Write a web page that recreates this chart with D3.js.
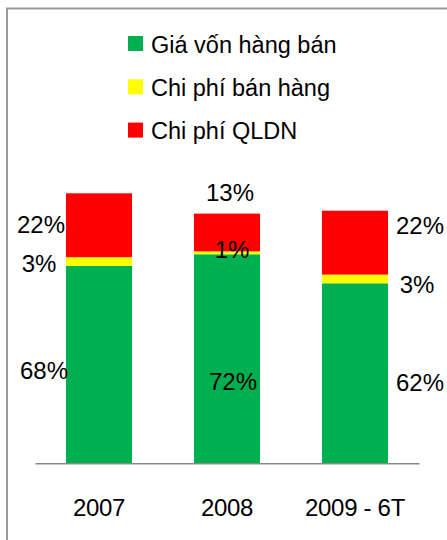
<!DOCTYPE html>
<html>
<head>
<meta charset="utf-8">
<script src="https://cdn.jsdelivr.net/npm/d3@7.9.0/dist/d3.min.js"></script>
<style>
  html, body { margin: 0; padding: 0; background: #fff; }
  svg { display: block; font-family: "Liberation Sans", Arial, sans-serif; }
</style>
</head>
<body>
<div id="chart"></div>
<script>
// categories and series (percent of revenue)
const years = ['2007', '2008', '2009 - 6T'];
const seriesNames = ['Giá vốn hàng bán', 'Chi phí bán hàng', 'Chi phí QLDN'];
const seriesColors = ['#00b050', '#ffff00', '#ff0000'];
const giaVon = [68, 72, 62];
const chiPhiBanHang = [3, 1, 3];
const chiPhiQLDN = [22, 13, 22];

// label nudges [dx, dy] relative to segment centre, per year, per series
const labelNudge = [
  [[-55, 6], [-60, 2], [-58, -1]],
  [[6, 23], [5, -3], [3, -40]],
  [[65, 9], [62, 6], [65, -17]]
];

const width = 447, height = 540;
const svg = d3.select('#chart').append('svg')
  .attr('width', width).attr('height', height);

// outer frame
svg.append('rect')
  .attr('x', 7).attr('y', 8.5)
  .attr('width', 460).attr('height', 560)
  .attr('fill', 'none')
  .attr('stroke', '#9a9a9a')
  .attr('stroke-width', 2);

// stacked data
const rows = years.map((y, i) => ({ year: y, s0: giaVon[i], s1: chiPhiBanHang[i], s2: chiPhiQLDN[i] }));
const stack = d3.stack().keys(['s0', 's1', 's2']);
const layers = stack(rows);

const x = d3.scaleBand().domain(years).range([35, 419]).padding(0);
const barW = x.bandwidth() * 0.516;
const y = d3.scaleLinear().domain([0, 93]).range([463.3, 193.3]);

const g = svg.append('g');
layers.forEach((layer, si) => {
  g.selectAll(null)
    .data(layer)
    .join('rect')
    .attr('x', d => x(d.data.year) + x.bandwidth() / 2 - barW / 2)
    .attr('y', d => y(d[1]))
    .attr('width', barW)
    .attr('height', d => y(d[0]) - y(d[1]))
    .attr('fill', seriesColors[si]);
});

// baseline axis
const axis = svg.append('g').attr('transform', `translate(0,${y(0)})`)
  .call(d3.axisBottom(x).tickSize(0).tickPadding(36));
axis.select('.domain').attr('stroke', '#888').attr('stroke-width', 1.6);
axis.selectAll('text')
  .attr('font-size', 24)
  .attr('font-family', '"Liberation Sans", Arial, sans-serif')
  .attr('fill', '#000')
  .attr('dy', '0.71em')
  .style('letter-spacing', '-0.3px');

// data labels
layers.forEach((layer, si) => {
  svg.selectAll(null)
    .data(layer)
    .join('text')
    .attr('x', (d, i) => x(d.data.year) + x.bandwidth() / 2 + labelNudge[i][si][0])
    .attr('y', (d, i) => (y(d[0]) + y(d[1])) / 2 + labelNudge[i][si][1])
    .attr('dy', '0.35em')
    .attr('text-anchor', 'middle')
    .attr('font-size', 24)
    .attr('fill', '#000')
    .text(d => (d[1] - d[0]) + '%');
});

// legend
const legend = svg.append('g').attr('transform', 'translate(128,36)');
seriesNames.forEach((name, i) => {
  const row = legend.append('g').attr('transform', `translate(0,${i * 43.3})`);
  row.append('rect').attr('width', 15).attr('height', 15).attr('fill', seriesColors[i]);
  row.append('text')
    .attr('x', 23).attr('y', 16.5)
    .attr('font-size', 23.5)
    .attr('fill', '#000')
    .text(name);
});
</script>
</body>
</html>
